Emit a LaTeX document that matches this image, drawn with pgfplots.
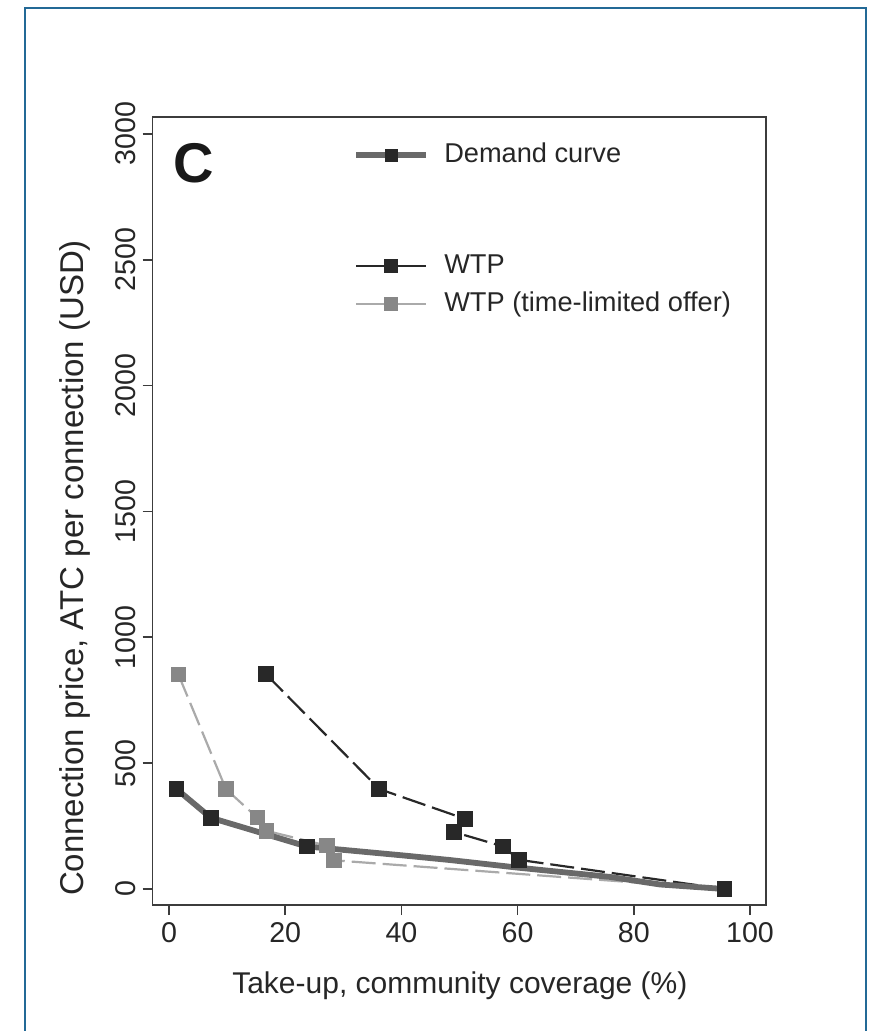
\documentclass[border=0pt]{standalone}
\usepackage{pgfplots}
\pgfplotsset{compat=1.18}
\usepackage{fontspec}
\setmainfont{Liberation Sans}
\definecolor{frameblue}{RGB}{35,105,150}
\definecolor{demandgray}{RGB}{105,105,105}
\definecolor{darkmk}{RGB}{40,40,40}
\definecolor{lightln}{RGB}{170,170,170}
\definecolor{lightmk}{RGB}{135,135,135}
\definecolor{axisgray}{RGB}{60,60,60}
\begin{document}
\begin{tikzpicture}
\useasboundingbox (0pt,0pt) rectangle (437pt,-515.5pt);
\draw[frameblue, line width=1pt] (12.5pt,-515.5pt) -- (12.5pt,-4pt) -- (433pt,-4pt) -- (433pt,-515.5pt);
\begin{axis}[
  at={(76.25pt,-452.5pt)}, anchor=south west,
  scale only axis, width=306.75pt, height=394pt,
  xmin=-2.84, xmax=102.75, ymin=-63.6, ymax=3067,
  xtick={0,20,...,100}, ytick={0,500,...,3000},
  tick align=outside, xtick pos=left, ytick pos=left,
  major tick length=5pt,
  axis line style={axisgray, line width=0.9pt},
  tick style={axisgray, line width=0.8pt},
  ticklabel style={font=\fontsize{14.3}{16}\selectfont, text=black!85},
  /pgf/number format/assume math mode=true,
  scaled y ticks=false,
  y tick label style={/pgf/number format/1000 sep={}, rotate=90, anchor=south},
  xlabel={Take-up, community coverage (\%)},
  ylabel={Connection price, ATC per connection (USD)},
  label style={text=black!85},
  xlabel style={font=\fontsize{15}{17}\selectfont, at={(axis description cs:0.501,-0.1028)}, anchor=center},
  ylabel style={font=\fontsize{16.5}{18}\selectfont, at={(axis description cs:-0.1263,0.4277)}, anchor=center},
  legend style={at={(rel axis cs:0.327,0.967)}, anchor=north west, draw=none, fill=none,
    inner sep=0pt, font=\fontsize{13.6}{15}\selectfont, text=black!85, row sep=7.5pt, column sep=7.5pt,
    nodes={inner xsep=0pt, inner ysep=0pt, text height=9.5pt, text depth=2pt}},
  legend cell align=left,
  legend image code/.code={\draw[mark repeat=2,mark phase=2] plot coordinates {(0pt,0pt) (17.5pt,0pt) (35pt,0pt)};},
]
% WTP (time-limited offer)
\addplot[forget plot, lightln, line width=1.1pt, dash pattern=on 12pt off 3.5pt,
  mark=square*, mark size=3.3pt, mark options={solid, fill=lightmk, draw=lightmk}]
  coordinates {(1.6,853) (9.8,397) (15.2,283) (16.8,231) (27.2,172) (28.4,114) (95.6,0)};
% WTP
\addplot[forget plot, darkmk, line width=1.1pt, dash pattern=on 12pt off 3.5pt,
  mark=square*, mark size=3.4pt, mark options={solid, fill=darkmk, draw=darkmk}]
  coordinates {(16.7,853) (36.2,397) (50.9,279) (49.1,226) (57.5,169) (60.2,116) (95.6,0)};
% Demand curve
\addplot[forget plot, demandgray, line width=2.9pt, mark=square*, mark size=3.6pt,
  mark indices={1,2,3,9}, mark options={fill=darkmk, draw=darkmk, line width=0.4pt}]
  coordinates {(1.3,397) (7.2,283) (23.7,169) (40,134) (48.4,115) (60,85) (75.9,48) (84.5,18) (95.6,0)};

\addlegendimage{demandgray, line width=2.9pt, mark=square*, mark size=3pt, mark options={fill=darkmk, draw=darkmk, line width=0.4pt}}
\addlegendentry{Demand curve}
\addlegendimage{empty legend}
\addlegendentry[text height=27pt]{}
\addlegendimage{darkmk, line width=1pt, mark=square*, mark size=3pt, mark options={fill=darkmk, draw=darkmk}}
\addlegendentry{WTP}
\addlegendimage{lightln, line width=1pt, mark=square*, mark size=3pt, mark options={fill=lightmk, draw=lightmk}}
\addlegendentry{WTP (time-limited offer)}

\node[font=\bfseries\fontsize{28}{30}\selectfont, text=black!90] at (rel axis cs:0.0676,0.9416) {C};
\end{axis}
\end{tikzpicture}
\end{document}
